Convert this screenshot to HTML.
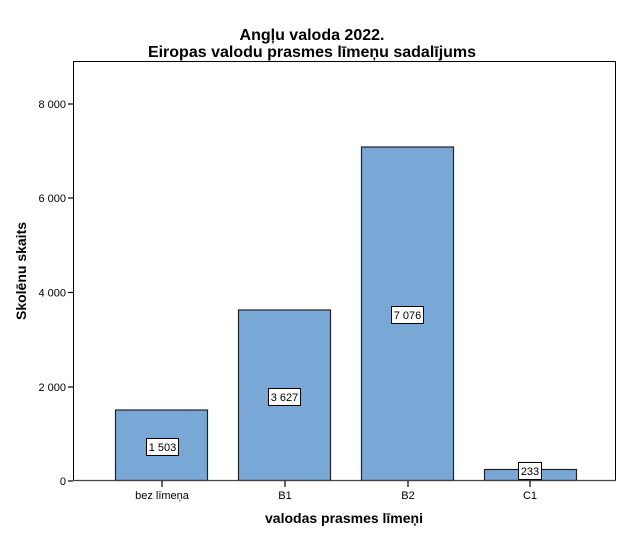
<!DOCTYPE html>
<html><head><meta charset="utf-8"><style>body{margin:0;background:#fff}svg{display:block}text{font-family:"Liberation Sans",Arial,sans-serif}</style></head>
<body>
<svg width="625" height="540" viewBox="0 0 625 540">
<rect width="625" height="540" fill="#fff"/>
<text x="312" y="40" font-size="16" font-weight="bold" text-anchor="middle">Angļu valoda 2022.</text>
<text x="312" y="57" font-size="16" font-weight="bold" text-anchor="middle">Eiropas valodu prasmes līmeņu sadalījums</text>
<rect x="73.5" y="61.5" width="542" height="419" fill="none" stroke="#000" stroke-width="1"/>
<g fill="#79a8d6" stroke="#222" stroke-width="1.2">
<rect x="115.5" y="410" width="92" height="70.5"/>
<rect x="238.5" y="310" width="92" height="170.5"/>
<rect x="361.5" y="147" width="92" height="333.5"/>
<rect x="484.5" y="469.5" width="92" height="11"/>
</g>
<line x1="73" y1="480.5" x2="616" y2="480.5" stroke="#444" stroke-width="1.3"/>
<g stroke="#000" stroke-width="1.2">
<line x1="68" y1="481" x2="73" y2="481"/><line x1="68" y1="387" x2="73" y2="387"/>
<line x1="68" y1="292.5" x2="73" y2="292.5"/><line x1="68" y1="198" x2="73" y2="198"/>
<line x1="68" y1="104" x2="73" y2="104"/>
<line x1="162" y1="481" x2="162" y2="487"/><line x1="285" y1="481" x2="285" y2="487"/>
<line x1="408" y1="481" x2="408" y2="487"/><line x1="530" y1="481" x2="530" y2="487"/>
</g>
<g font-size="11" text-anchor="end">
<text x="66" y="485">0</text><text x="66" y="391">2 000</text><text x="66" y="296.5">4 000</text>
<text x="66" y="202">6 000</text><text x="66" y="108">8 000</text>
</g>
<g font-size="11" text-anchor="middle">
<text x="162" y="499">bez līmeņa</text><text x="285" y="499">B1</text><text x="408" y="499">B2</text><text x="530" y="499">C1</text>
</g>
<g fill="#fff" stroke="#000" stroke-width="1">
<rect x="146.5" y="438.5" width="32" height="17"/>
<rect x="268.5" y="388.5" width="32" height="17"/>
<rect x="391.5" y="306.5" width="32" height="17"/>
<rect x="518.5" y="462.5" width="23" height="17"/>
</g>
<g font-size="11" text-anchor="middle">
<text x="162.5" y="451">1 503</text><text x="284.5" y="401">3 627</text><text x="407.5" y="319">7 076</text><text x="530" y="475">233</text>
</g>
<text x="344" y="523" font-size="14" font-weight="bold" text-anchor="middle">valodas prasmes līmeņi</text>
<text transform="translate(26,271) rotate(-90)" font-size="14" font-weight="bold" text-anchor="middle">Skolēnu skaits</text>
</svg>
</body></html>
